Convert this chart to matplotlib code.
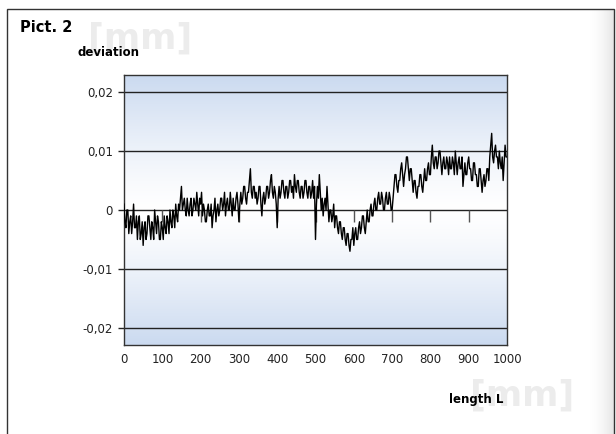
import numpy as np
import matplotlib
matplotlib.use("Agg")
import matplotlib.pyplot as plt
from matplotlib.patches import Rectangle

# ── data (deviation in µm, every 2.5 mm) ────────────────────────────────────
length_mm = np.arange(0, 1000.1, 2.5)
deviation_um = [
    1, -2, -3, 0, 0, -4, -2, -1, -4, -2, 1, -3, -3, -1, -5, -2, -1, -5, -4, -2,
    -6, -3, -2, -5, -4, -1, -1, -3, -5, -2, -3, -5, 0, -2, -4, -1, -2, -5, -5, -2,
    -3, -5, -1, -3, -4, -1, -2, -4, 0, -2, -3, 0, -1, -3, 1, -1, -2, 1, 0, 2,
    4, 0, 1, 2, 0, -1, 2, 0, -1, 1, 2, -1, 0, 2, 1, 0, 3, 1, -1, 2,
    1, 3, -1, 1, 0, -2, -2, 0, 1, -1, -1, 1, -3, -1, 0, 2, -2, 0, 1, -1,
    0, 2, 2, 0, 1, 3, -1, 1, 2, 0, 0, 3, 1, -1, 2, 0, 0, 2, 3, 1,
    -2, 1, 3, 1, 2, 4, 4, 2, 1, 3, 3, 5, 7, 3, 2, 4, 4, 2, 3, 1,
    2, 4, 4, 1, -1, 2, 3, 1, 2, 4, 4, 2, 3, 5, 6, 3, 2, 4, 3, 1,
    -3, 2, 4, 2, 3, 5, 5, 3, 2, 4, 4, 2, 3, 5, 5, 3, 4, 2, 6, 4,
    3, 5, 5, 3, 2, 4, 4, 2, 3, 5, 5, 3, 2, 4, 4, 2, 3, 5, 2, 4,
    -5, 1, 4, 2, 6, 3, 0, 2, -1, 1, 2, 0, 4, 1, -2, 0, 0, -2, -1, 1,
    -3, -1, -1, -3, -4, -2, -2, -4, -5, -3, -3, -5, -6, -4, -4, -6, -7, -5, -5, -3,
    -6, -4, -3, -5, -5, -3, -2, -4, -3, -1, -1, -3, -4, -2, 0, -2, -2, 0, 1, -1,
    -1, 1, 2, 0, 0, 2, 3, 1, 1, 3, 2, 0, 0, 2, 3, 1, 1, 3, 2, 0,
    0, 2, 4, 6, 6, 4, 3, 5, 5, 7, 8, 6, 4, 6, 7, 9, 9, 7, 5, 7,
    7, 5, 3, 5, 5, 3, 2, 4, 4, 6, 6, 4, 3, 5, 7, 5, 5, 7, 8, 6,
    6, 9, 11, 8, 7, 9, 9, 7, 8, 10, 10, 8, 6, 8, 9, 7, 7, 9, 8, 6,
    9, 7, 7, 9, 8, 6, 10, 8, 6, 8, 9, 7, 7, 9, 4, 6, 8, 6, 6, 8,
    9, 7, 7, 5, 5, 8, 8, 6, 6, 4, 4, 7, 7, 5, 3, 5, 6, 4, 5, 7,
    7, 5, 9, 11, 13, 9, 8, 10, 11, 9, 9, 7, 10, 8, 7, 9, 5, 8, 11, 9,
    9,
]
deviation = np.array(deviation_um) / 1000.0

x_ticks = [0, 100, 200, 300, 400, 500, 600, 700, 800, 900, 1000]
y_ticks = [-0.02, -0.01, 0, 0.01, 0.02]
y_labels = ["-0,02", "-0,01", "0", "0,01", "0,02"]

fig = plt.figure(figsize=(6.16, 4.34), dpi=100)
fig.patch.set_facecolor("white")

# soft shadow along the right edge of the frame
shade = np.linspace(0, 1, 64)[None, :] ** 2
shadow_ax = fig.add_axes([585 / 616, 0, 29 / 616, 1 - 9 / 434], zorder=-1)
shadow_ax.imshow(1 - 0.1 * shade, cmap="gray", vmin=0, vmax=1, aspect="auto")
shadow_ax.axis("off")

# frame around the whole picture
fig.add_artist(Rectangle((7 / 616, -0.05), 607 / 616, 1 - 9 / 434 + 0.05,
                         transform=fig.transFigure, fill=False,
                         edgecolor="#333333", linewidth=1.0))

ax = fig.add_axes([124 / 616, 1 - 345 / 434, 383 / 616, 270 / 434])
ylim = 0.0229
ax.set_xlim(0, 1000)
ax.set_ylim(-ylim, ylim)

# blue -> white -> blue background
grad = np.abs(np.linspace(-1, 1, 256))[:, None]
top = np.array([203, 218, 240]) / 255
mid = np.array([255, 255, 255]) / 255
img = mid + (top - mid) * grad[..., None] ** 1.3
ax.imshow(img, extent=[0, 1000, -ylim, ylim], aspect="auto", zorder=0,
          interpolation="bilinear")

for yv in y_ticks:
    ax.axhline(yv, color="#222222", linewidth=1.0, zorder=1)

# small ticks hanging under the zero line
ax.vlines(x_ticks[1:-1], -0.0021, 0, color="#555555", linewidth=1.0, zorder=1)

ax.plot(length_mm, deviation, color="black", linewidth=1.0, zorder=3)

ax.set_xticks(x_ticks)
ax.set_xticklabels([str(v) for v in x_ticks])
ax.set_yticks(y_ticks)
ax.set_yticklabels(y_labels)
ax.tick_params(axis="x", length=0, pad=6, labelsize=8.5, colors="#222222")
ax.tick_params(axis="y", length=4, width=1, pad=4, labelsize=8.5,
               colors="#222222", direction="out")
for s in ax.spines.values():
    s.set_color("#333333")
    s.set_linewidth(1.0)

# watermark units
wm = dict(fontsize=25, fontweight="bold", color="#ececec", zorder=0)
fig.text(88 / 616, 1 - 39 / 434, "[mm]", ha="left", va="center", **wm)
fig.text(470 / 616, 1 - 396 / 434, "[mm]", ha="left", va="center", **wm)

fig.text(20 / 616, 1 - 27 / 434, "Pict. 2", fontsize=10.5, fontweight="bold",
         ha="left", va="center")
fig.text(77 / 616, 1 - 52 / 434, "deviation", fontsize=8.5, fontweight="bold",
         ha="left", va="center")
fig.text(449 / 616, 1 - 400 / 434, "length L", fontsize=8.5, fontweight="bold",
         ha="left", va="center")

fig.savefig("out.png", dpi=100)
